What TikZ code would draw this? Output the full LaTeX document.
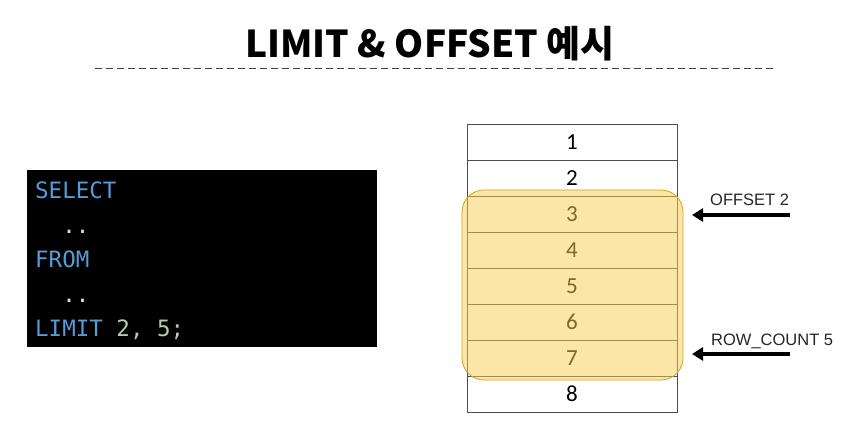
\documentclass[tikz,border=0pt]{standalone}
\usepackage{fontspec}
\usepackage{xcolor}
\usetikzlibrary{arrows.meta}
\setmainfont{Liberation Sans}
\newfontfamily\titlefont{Noto Sans CJK KR}
\newfontfamily\codefont{DejaVu Sans Mono}
\newfontfamily\rowfont{Carlito}
\definecolor{keycolor}{RGB}{86, 156, 214}
\definecolor{numcolor}{RGB}{181, 206, 168}
\definecolor{dotcolor}{RGB}{220, 220, 220}
\definecolor{yellowcolor}{RGB}{248, 206, 80}
\definecolor{rimcolor}{RGB}{210, 165, 30}

\tikzset{
        codeline/.style={anchor=base west, inner sep=0pt, font=\codefont\fontsize{22.5}{22.5}\selectfont},
        rowcell/.style={draw=black!70, line width=0.7pt, minimum width=210pt, minimum height=36pt, inner sep=0pt, font=\rowfont\fontsize{23}{23}\selectfont},
        pointer/.style={-{Triangle[length=11pt, width=13pt]}, line width=3.5pt},
        tag/.style={anchor=base west, inner sep=0pt, font=\fontsize{16.5}{16.5}\selectfont, text=black!85},
}

\begin{document}
\begin{tikzpicture}[x=1pt, y=-1pt]
        \useasboundingbox[fill=white] (0, 0) rectangle (856, 427);

        % Title
        \node[inner sep=0pt] (title) at (430, 44) {\titlefont\bfseries\fontsize{37}{37}\selectfont LIMIT \& OFFSET 예시};
        \draw[dash pattern=on 7pt off 4pt, black!75, line width=0.9pt] (95, 68) -- (773, 68);

        % Code block
        \fill[black] (27, 170) rectangle (377, 347);
        \node[codeline, text=keycolor] (select) at (35, 199) {SELECT};
        \node[codeline, text=dotcolor] (dots1) at (35, 234) {\ \ ..};
        \node[codeline, text=keycolor] (from) at (35, 268) {FROM};
        \node[codeline, text=dotcolor] (dots2) at (35, 303) {\ \ ..};
        \node[codeline] (limit) at (35, 336) {\textcolor{keycolor}{LIMIT} \textcolor{numcolor}{2, 5;}};

        % Table rows
        \foreach \i in {1,...,8}
                \node[rowcell] (row\i) at (572, 106 + 36*\i) {\i};

        % Highlight
        \fill[yellowcolor, fill opacity=0.5, rounded corners=22pt] (462, 190) rectangle (683, 380);
        \draw[rimcolor, line width=0.8pt, rounded corners=22pt] (462, 190) rectangle (683, 380);

        % Pointers
        \coordinate (offtail) at (790, 215);
        \coordinate (offhead) at (692, 215);
        \draw[pointer] (offtail) -- (offhead);
        \node[tag] (offset) at (710, 206) {OFFSET 2};
        \coordinate (cnttail) at (790, 354);
        \coordinate (cnthead) at (692, 354);
        \draw[pointer] (cnttail) -- (cnthead);
        \node[tag] (rowcount) at (711, 345) {ROW\_COUNT 5};
\end{tikzpicture}
\end{document}
